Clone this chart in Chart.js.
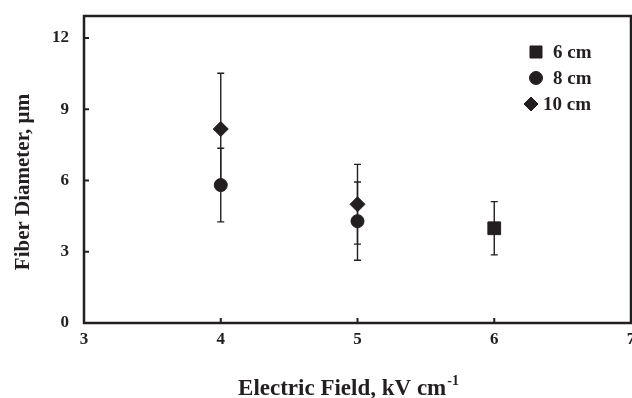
<!DOCTYPE html>
<html><head><meta charset="utf-8">
<script src="https://cdn.jsdelivr.net/npm/chart.js@4"></script>
<style>html,body{margin:0;padding:0;background:#fff;overflow:hidden}#wrap{width:642px;height:398px;position:relative}</style>
</head><body><div id="wrap"><canvas id="c"></canvas></div>
<script>
const seriesNames = ["6 cm", "8 cm", "10 cm"];
const x6 = [6];
const y6 = [3.99];
const e6 = [1.12];
const x8 = [4, 5];
const y8 = [5.81, 4.29];
const e8 = [1.55, 1.65];
const x10 = [4, 5];
const y10 = [8.17, 5.0];
const e10 = [2.35, 1.68];
const xTicks = [3, 4, 5, 6, 7];
const yTicks = [0, 3, 6, 9, 12];
const xTitle = "Electric Field, kV cm";
const xTitleSup = "-1";
const yTitle = "Fiber Diameter, \u00b5m";

const INK = "#231f20";
const FONT = "'Liberation Serif', 'Times New Roman', serif";

function pts(xs, ys, es) { return xs.map((x, i) => ({x: x, y: ys[i], err: es[i]})); }

const errorBars = {
  id: 'errorBars',
  beforeDatasetsDraw(chart) {
    const ctx = chart.ctx, xs = chart.scales.x, ys = chart.scales.y;
    ctx.save();
    ctx.strokeStyle = INK; ctx.lineWidth = 1.4;
    chart.data.datasets.forEach(ds => {
      ds.data.forEach(p => {
        const px = xs.getPixelForValue(p.x);
        const top = ys.getPixelForValue(p.y + p.err);
        const bot = ys.getPixelForValue(p.y - p.err);
        ctx.beginPath();
        ctx.moveTo(px, top); ctx.lineTo(px, bot);
        ctx.moveTo(px - 3.5, top); ctx.lineTo(px + 3.5, top);
        ctx.moveTo(px - 3.5, bot); ctx.lineTo(px + 3.5, bot);
        ctx.stroke();
      });
    });
    ctx.restore();
  }
};

const frame = {
  id: 'frame',
  afterDraw(chart) {
    const ctx = chart.ctx, a = chart.chartArea, xs = chart.scales.x, ys = chart.scales.y;
    ctx.save();
    ctx.strokeStyle = INK; ctx.lineWidth = 2.5;
    ctx.strokeRect(a.left, a.top, a.right - a.left, a.bottom - a.top);
    ctx.lineWidth = 2;
    ctx.beginPath();
    yTicks.forEach(v => { const py = ys.getPixelForValue(v); ctx.moveTo(a.left, py); ctx.lineTo(a.left + 5, py); });
    xTicks.forEach(v => { const px = xs.getPixelForValue(v); ctx.moveTo(px, a.bottom); ctx.lineTo(px, a.bottom - 5); });
    ctx.stroke();
    // axis titles
    ctx.fillStyle = INK;
    ctx.font = "bold 23px " + FONT;
    ctx.textBaseline = 'alphabetic';
    const w1 = ctx.measureText(xTitle).width;
    ctx.font = "bold 14px " + FONT;
    const w2 = ctx.measureText(xTitleSup).width;
    const cx = 348;
    let sx = cx - (w1 + w2) / 2;
    ctx.font = "bold 23px " + FONT;
    ctx.textAlign = 'left';
    ctx.fillText(xTitle, sx, 395);
    ctx.font = "bold 14px " + FONT;
    ctx.fillText(xTitleSup, sx + w1 + 1, 385);
    ctx.save();
    ctx.translate(24, 182);
    ctx.rotate(-Math.PI / 2);
    ctx.font = "bold 21px " + FONT;
    ctx.textAlign = 'center';
    ctx.textBaseline = 'middle';
    ctx.fillText(yTitle, 0, 0);
    ctx.restore();
    // legend
    ctx.font = "bold 19px " + FONT;
    ctx.textAlign = 'left';
    ctx.textBaseline = 'middle';
    const items = [
      {name: seriesNames[0], style: 'rect', r: 8.5, y: 52, tx: 553, mx: 536},
      {name: seriesNames[1], style: 'circle', r: 6.5, y: 78, tx: 553, mx: 536},
      {name: seriesNames[2], style: 'rectRot', r: 7, y: 104, tx: 543, mx: 531}
    ];
    items.forEach(it => {
      ctx.fillStyle = INK; ctx.strokeStyle = INK; ctx.lineWidth = 1;
      Chart.helpers.drawPoint(ctx, {pointStyle: it.style, radius: it.r, borderWidth: 1, rotation: 0}, it.mx, it.y);
      ctx.fillStyle = INK;
      ctx.fillText(it.name, it.tx, it.y + 1);
    });
    ctx.restore();
  }
};

new Chart(document.getElementById('c'), {
  type: 'scatter',
  data: {
    datasets: [
      {label: seriesNames[0], data: pts(x6, y6, e6), pointStyle: 'rect', pointRadius: 9, backgroundColor: INK, borderColor: INK},
      {label: seriesNames[1], data: pts(x8, y8, e8), pointStyle: 'circle', pointRadius: 6.5, backgroundColor: INK, borderColor: INK},
      {label: seriesNames[2], data: pts(x10, y10, e10), pointStyle: 'rectRot', pointRadius: 7.5, backgroundColor: INK, borderColor: INK}
    ]
  },
  options: {
    responsive: true, maintainAspectRatio: false, animation: false,
    layout: {padding: {top: 16, right: 11, left: 0, bottom: 0}},
    plugins: {legend: {display: false}, tooltip: {enabled: false}},
    scales: {
      x: {
        type: 'linear', min: 3, max: 7,
        afterBuildTicks: s => { s.ticks = xTicks.map(v => ({value: v})); },
        afterFit: s => { s.height = 75; s.paddingLeft = 0; s.paddingRight = 0; },
        grid: {display: false, drawTicks: false},
        border: {display: false},
        ticks: {color: INK, font: {family: FONT, size: 17, weight: 'bold'}, padding: 6, maxRotation: 0}
      },
      y: {
        type: 'linear', min: 0, max: 12.93,
        afterBuildTicks: s => { s.ticks = yTicks.map(v => ({value: v})); },
        afterFit: s => { s.width = 84; s.paddingTop = 0; s.paddingBottom = 0; },
        grid: {display: false, drawTicks: false},
        border: {display: false},
        ticks: {color: INK, font: {family: FONT, size: 17, weight: 'bold'}, padding: 15}
      }
    }
  },
  plugins: [errorBars, frame]
});
</script></body></html>
